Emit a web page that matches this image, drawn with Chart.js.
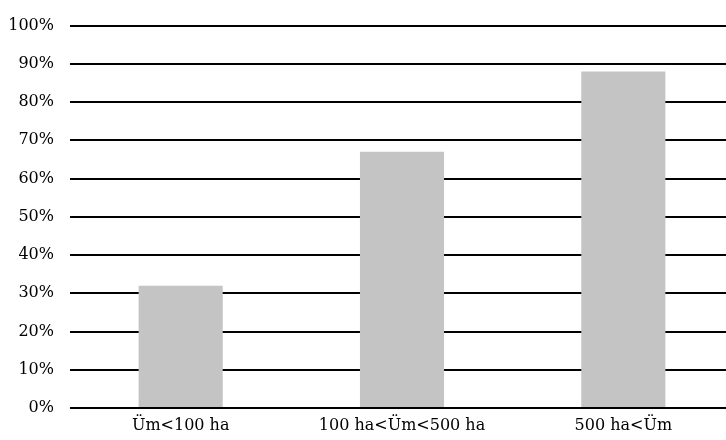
<!DOCTYPE html>
<html><head><meta charset="utf-8">
<script src="https://cdn.jsdelivr.net/npm/chart.js@4"></script>
<style>
html,body{margin:0;padding:0;background:#fff;overflow:hidden;width:726px;height:440px;}
#wrap{width:734px;height:440px;}
</style></head>
<body><div id="wrap"><canvas id="c" width="734" height="440"></canvas></div>
<script>
const categories = ["Üm<100 ha", "100 ha<Üm<500 ha", "500 ha<Üm"];
const shares = [32, 67, 88];
const yTicks = [0,10,20,30,40,50,60,70,80,90,100];

const font = {family: "'DejaVu Serif'", size: 16};
new Chart(document.getElementById('c'), {
  type: 'bar',
  data: {labels: categories, datasets: [{data: shares, backgroundColor: '#c4c4c4', barPercentage: 0.38, categoryPercentage: 1}]},
  options: {
    responsive: false, animation: false,
    layout: {padding: {top: 22, left: 0, right: 0, bottom: 0}},
    plugins: {legend: {display: false}, tooltip: {enabled: false}},
    scales: {
      x: {
        grid: {display: false, drawTicks: false},
        border: {display: false},
        ticks: {color: '#000', font: font, padding: 8, maxRotation: 0},
        afterFit: s => { s.height = 32; }
      },
      y: {
        min: 0, max: 100,
        afterBuildTicks: s => { s.ticks = yTicks.map(v => ({value: v})); },
        grid: {color: '#000', lineWidth: 2, drawTicks: false},
        border: {display: false},
        ticks: {color: '#000', font: font, padding: 16, callback: v => v + '%'},
        afterFit: s => { s.width = 70; }
      }
    }
  }
});
</script></body></html>
